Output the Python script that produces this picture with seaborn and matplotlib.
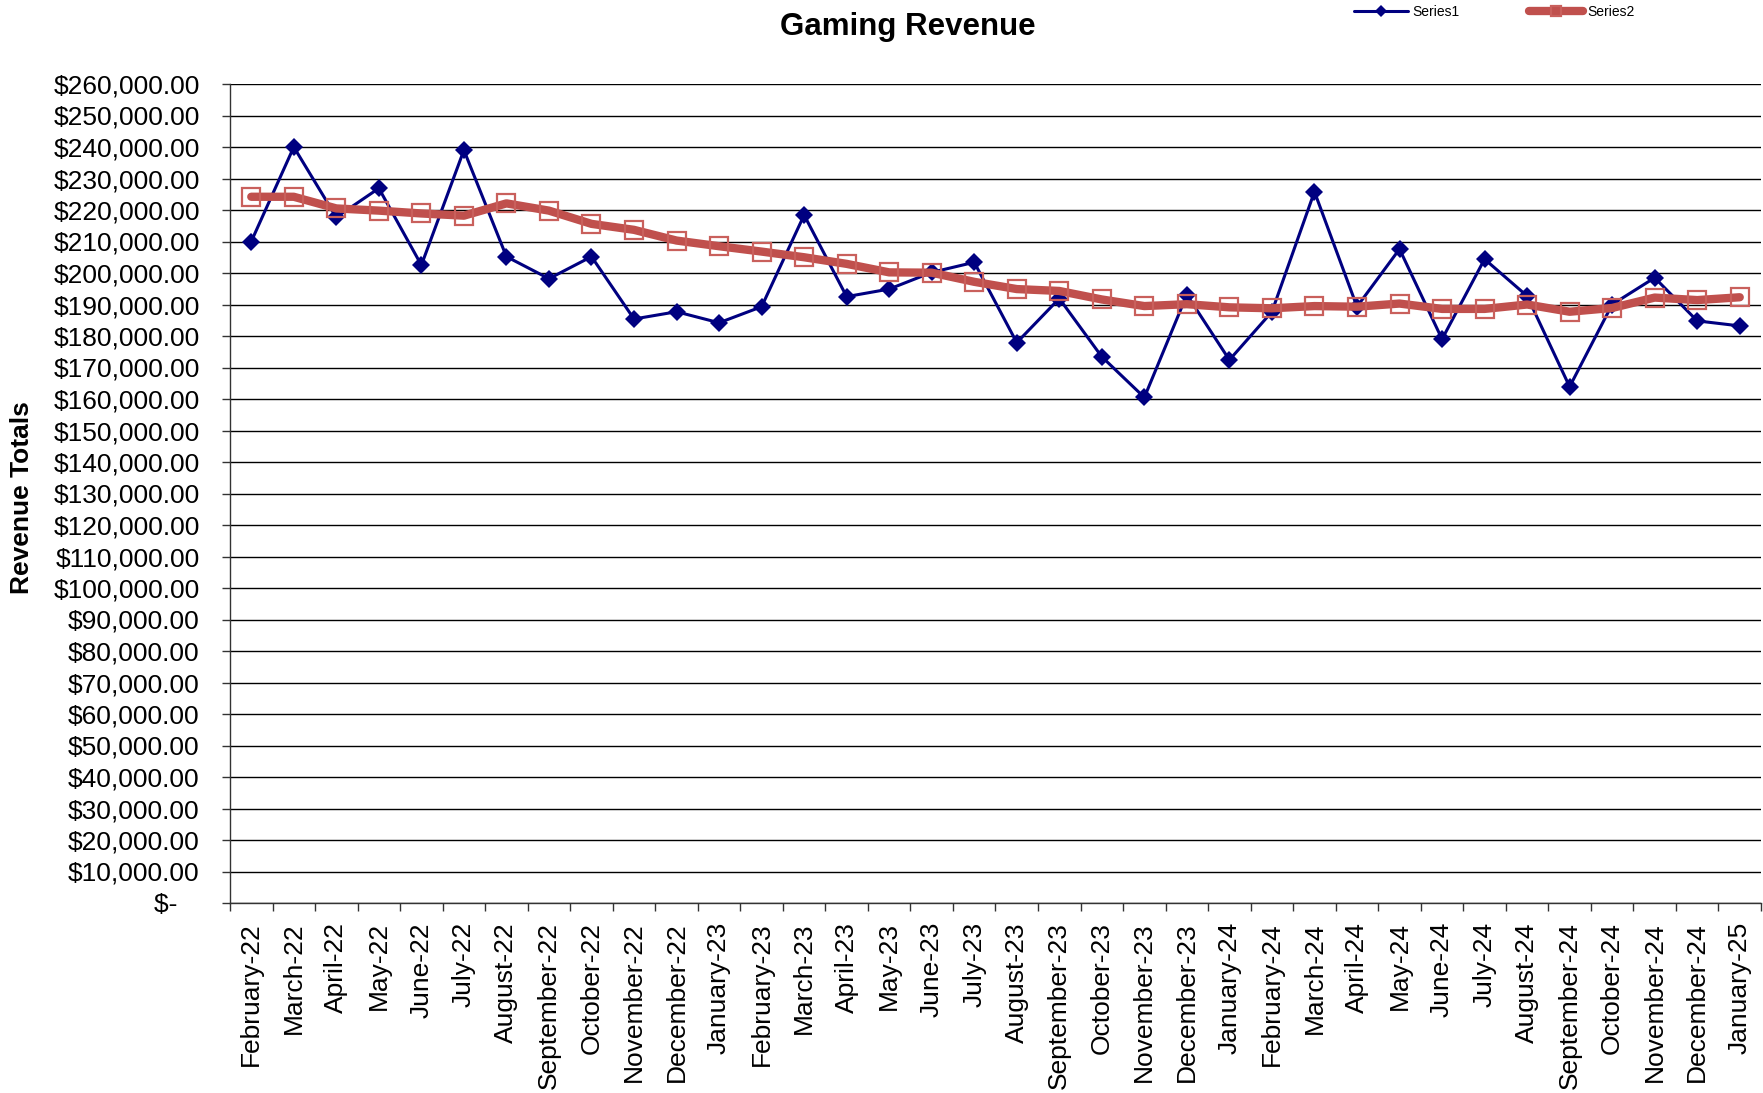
import matplotlib
matplotlib.use("Agg")
import matplotlib.pyplot as plt
import seaborn as sns
import pandas as pd
import numpy as np
from matplotlib.ticker import FixedLocator, FuncFormatter

# Datos
months = ["February-22", "March-22", "April-22", "May-22", "June-22", "July-22",
          "August-22", "September-22", "October-22", "November-22", "December-22",
          "January-23", "February-23", "March-23", "April-23", "May-23", "June-23",
          "July-23", "August-23", "September-23", "October-23", "November-23",
          "December-23", "January-24", "February-24", "March-24", "April-24",
          "May-24", "June-24", "July-24", "August-24", "September-24", "October-24",
          "November-24", "December-24", "January-25"]

series1 = [210000, 240000, 217700, 226900, 202500, 239000,
           205200, 198200, 205200, 185400, 187700, 184200,
           189300, 218400, 192500, 194900, 200200, 203400,
           177900, 191900, 173400, 160500, 193100, 172400,
           187700, 225800, 189300, 207600, 179000, 204400,
           192700, 163900, 190000, 198500, 184800, 183200]

series2 = [224200, 224200, 220500, 219800, 218900, 218200,
           222100, 219800, 215600, 213700, 210300, 208500,
           206800, 205000, 202900, 200200, 200100, 197200,
           194900, 194300, 191600, 189500, 190100, 189100,
           188800, 189500, 189300, 190300, 188600, 188600,
           190000, 187700, 188900, 192200, 191400, 192300]

y_ticks = list(range(0, 260001, 10000))


def formato_moneda(v, pos):
    if v == 0:
        return "$-   "
    return f"${v:,.2f}"


def generar_grafica():
    df = pd.DataFrame({"Month": months, "Series1": series1, "Series2": series2})

    sns.set_theme(style="white", rc={"text.color": "black", "axes.labelcolor": "black",
                                     "xtick.color": "black", "ytick.color": "black"})
    plt.rcParams["font.family"] = ["Liberation Sans", "DejaVu Sans"]

    fig = plt.figure(figsize=(17.63, 10.93), dpi=100)
    ax = fig.add_axes([230 / 1763, 1 - 903 / 1093, 1531 / 1763, (903 - 84) / 1093])

    sns.lineplot(data=df, x="Month", y="Series1", ax=ax, sort=False, color="#000080",
                 linewidth=2.2, marker="D", markersize=8.8, markeredgewidth=0,
                 label="Series1", zorder=3)
    sns.lineplot(data=df, x="Month", y="Series2", ax=ax, sort=False, color="#C0504D",
                 linewidth=6, marker="s", markersize=13.5, markerfacecolor="none",
                 markeredgecolor="#C9605C", markeredgewidth=1.6,
                 label="Series2", zorder=4)

    ax.set_xlim(-0.5, len(months) - 0.5)
    ax.set_ylim(0, 260000)
    ax.set_yticks(y_ticks)
    ax.yaxis.set_major_formatter(FuncFormatter(formato_moneda))
    ax.yaxis.grid(True, color="black", linewidth=1)
    ax.xaxis.grid(False)

    ax.set_xticks(range(len(months)))
    ax.set_xticklabels(months, rotation=90)
    ax.xaxis.set_minor_locator(FixedLocator(np.arange(-0.5, len(months), 1.0)))

    ax.tick_params(axis="y", which="major", direction="out", length=5.8, width=1,
                   color="#333333", pad=16, labelsize=19, left=True)
    ax.tick_params(axis="x", which="major", length=0, pad=13.7, labelsize=19)
    ax.tick_params(axis="x", which="minor", direction="out", length=5.8, width=1,
                   color="#333333", bottom=True)

    for lado in ["top", "right"]:
        ax.spines[lado].set_visible(False)
    for lado in ["left", "bottom"]:
        ax.spines[lado].set_color("#333333")
        ax.spines[lado].set_linewidth(1)

    ax.set_xlabel("")
    ax.set_ylabel("")
    ax.get_legend().remove()

    fig.text(908 / 1763, 1 - 27 / 1093, "Gaming Revenue", ha="center", va="center",
             fontsize=22.5, fontweight="bold")
    fig.text(22.5 / 1763, 1 - 498 / 1093, "Revenue Totals", ha="center", va="center",
             rotation=90, fontsize=19, fontweight="bold")

    handles, labels = ax.get_legend_handles_labels()
    leg = fig.legend(handles, labels, loc="upper left", bbox_to_anchor=(1352 / 1763, 1 - 3 / 1093),
                     ncol=2, frameon=False, fontsize=10, handlelength=3.9,
                     columnspacing=5.0, borderaxespad=0, borderpad=0.15,
                     handletextpad=0.3)
    tamanos = [6.5, 7]
    for h, t in zip(leg.legend_handles, tamanos):
        h.set_markersize(t)

    fig.savefig("out.png", dpi=100)
    plt.close(fig)


if __name__ == "__main__":
    generar_grafica()
